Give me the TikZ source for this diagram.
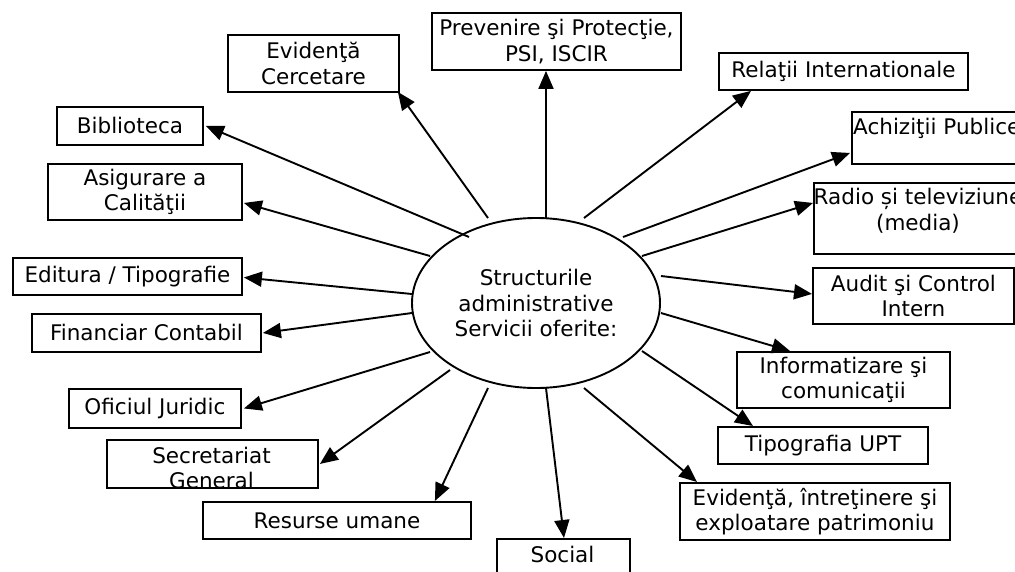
\documentclass[tikz,border=0pt]{standalone}
\usepackage{fontspec}
\setmainfont{DejaVu Sans}
\usetikzlibrary{arrows.meta,shapes.geometric}

\tikzset{
  box/.style={draw, line width=1.9pt, inner sep=0pt, align=center, anchor=north west},
  txt/.style={inner sep=0pt, align=center},
  arr/.style={line width=1.9pt, -{Triangle[length=18pt,width=15pt]}},
}

\begin{document}
\begin{tikzpicture}[x=1pt, y=-1pt, font=\fontsize{21.5}{25.5}\selectfont]
\useasboundingbox (0,0) rectangle (1015,571);
\clip (0,0) rectangle (1015,571);

% central ellipse
\node[draw, line width=1.9pt, ellipse, minimum width=248pt, minimum height=170pt, inner sep=0pt, align=center]
  (c) at (536,303) {Structurile\\administrative\\Servicii oferite:};

% departments
\node[box, minimum width=171pt, minimum height=57pt] (evc) at (227,34) {Evidenţă\\Cercetare};
\node[box, minimum width=249pt, minimum height=57pt] (prev) at (431,12) {Prevenire şi Protecţie,\\PSI, ISCIR};
\node[box, minimum width=249pt, minimum height=37pt] (rel) at (718,52) {Relaţii Internationale};
\node[box, minimum width=210pt, minimum height=52pt] (ach) at (851,111) {};
\node[txt, anchor=west] (achT) at (853,128) {Achiziţii Publice};
\node[box, minimum width=230pt, minimum height=71pt] (rad) at (813,182) {};
\node[txt] (radT) at (918,210.5) {Radio și televiziune\\(media)};
\node[box, minimum width=201pt, minimum height=56pt] (aud) at (812,267) {Audit şi Control\\Intern};
\node[box, minimum width=213pt, minimum height=56pt] (inf) at (736,351) {Informatizare şi\\comunicaţii};
\node[box, minimum width=210pt, minimum height=37pt] (tip) at (717,426) {Tipografia UPT};
\node[box, minimum width=270pt, minimum height=57pt] (evp) at (679,482) {Evidenţă, întreţinere şi\\exploatare patrimoniu};
\node[box, minimum width=133pt, minimum height=60pt] (soc) at (496,538) {};
\node[txt] (socT) at (562.5,554) {Social};
\node[box, minimum width=268pt, minimum height=37pt] (res) at (202,501) {Resurse umane};
\node[box, minimum width=211pt, minimum height=48pt] (sec) at (106,439) {};
\begin{scope}
  \clip (sec.south west) rectangle (sec.north east);
  \node[txt] (secT) at (211.5,468) {Secretariat\\General};
\end{scope}
\node[box, minimum width=172pt, minimum height=39pt] (ofj) at (68,388) {Oficiul Juridic};
\node[box, minimum width=229pt, minimum height=38pt] (fin) at (31,313) {Financiar Contabil};
\node[box, minimum width=229pt, minimum height=37pt] (edi) at (12,257) {Editura / Tipografie};
\node[box, minimum width=194pt, minimum height=56pt] (asi) at (47,163) {Asigurare a\\Calităţii};
\node[box, minimum width=146pt, minimum height=38pt] (bib) at (56,106) {Biblioteca};

% tails of the connectors around the ellipse
\coordinate (t1) at (488,218);
\coordinate (t2) at (546,218);
\coordinate (t3) at (584,218);
\coordinate (t4) at (623,237);
\coordinate (t5) at (642,256);
\coordinate (t6) at (661,276);
\coordinate (t7) at (661,313);
\coordinate (t8) at (642,351);
\coordinate (t9) at (584,388);
\coordinate (t10) at (546,388);
\coordinate (t11) at (488,388);
\coordinate (t12) at (450,370);
\coordinate (t13) at (430,352);
\coordinate (t14) at (412,313);
\coordinate (t15) at (412,294);
\coordinate (t16) at (430,256);
\coordinate (t17) at (469,237);

% connectors
\draw[arr] (t1) -- ([xshift=-2pt,yshift=1pt]evc.south east);
\draw[arr] (t2) -- (prev.south -| t2);
\draw[arr] (t3) -- ([xshift=33pt]rel.south west);
\draw[arr] (t4) -- ([xshift=-1pt,yshift=-15pt]ach.west);
\draw[arr] (t5) -- ([yshift=15.5pt]rad.west);
\draw[arr] (t6) -- ([yshift=2pt]aud.west);
\draw[arr] (t7) -- ([xshift=54pt]inf.north west);
\draw[arr] (t8) -- ([xshift=36pt]tip.north west);
\draw[arr] (t9) -- ([xshift=18pt]evp.north west);
\draw[arr] (t10) -- ([xshift=68pt]soc.north west);
\draw[arr] (t11) -- ([xshift=-37pt]res.north east);
\draw[arr] (t12) -- ([xshift=1pt]sec.east);
\draw[arr] (t13) -- ([xshift=2pt]ofj.east);
\draw[arr] (t14) -- ([xshift=1pt]fin.east);
\draw[arr] (t15) -- ([xshift=1pt,yshift=-1pt]edi.east);
\draw[arr] (t16) -- ([xshift=1pt,yshift=-11pt]asi.east);
\draw[arr] (t17) -- ([xshift=2pt]bib.east);
\end{tikzpicture}
\end{document}
